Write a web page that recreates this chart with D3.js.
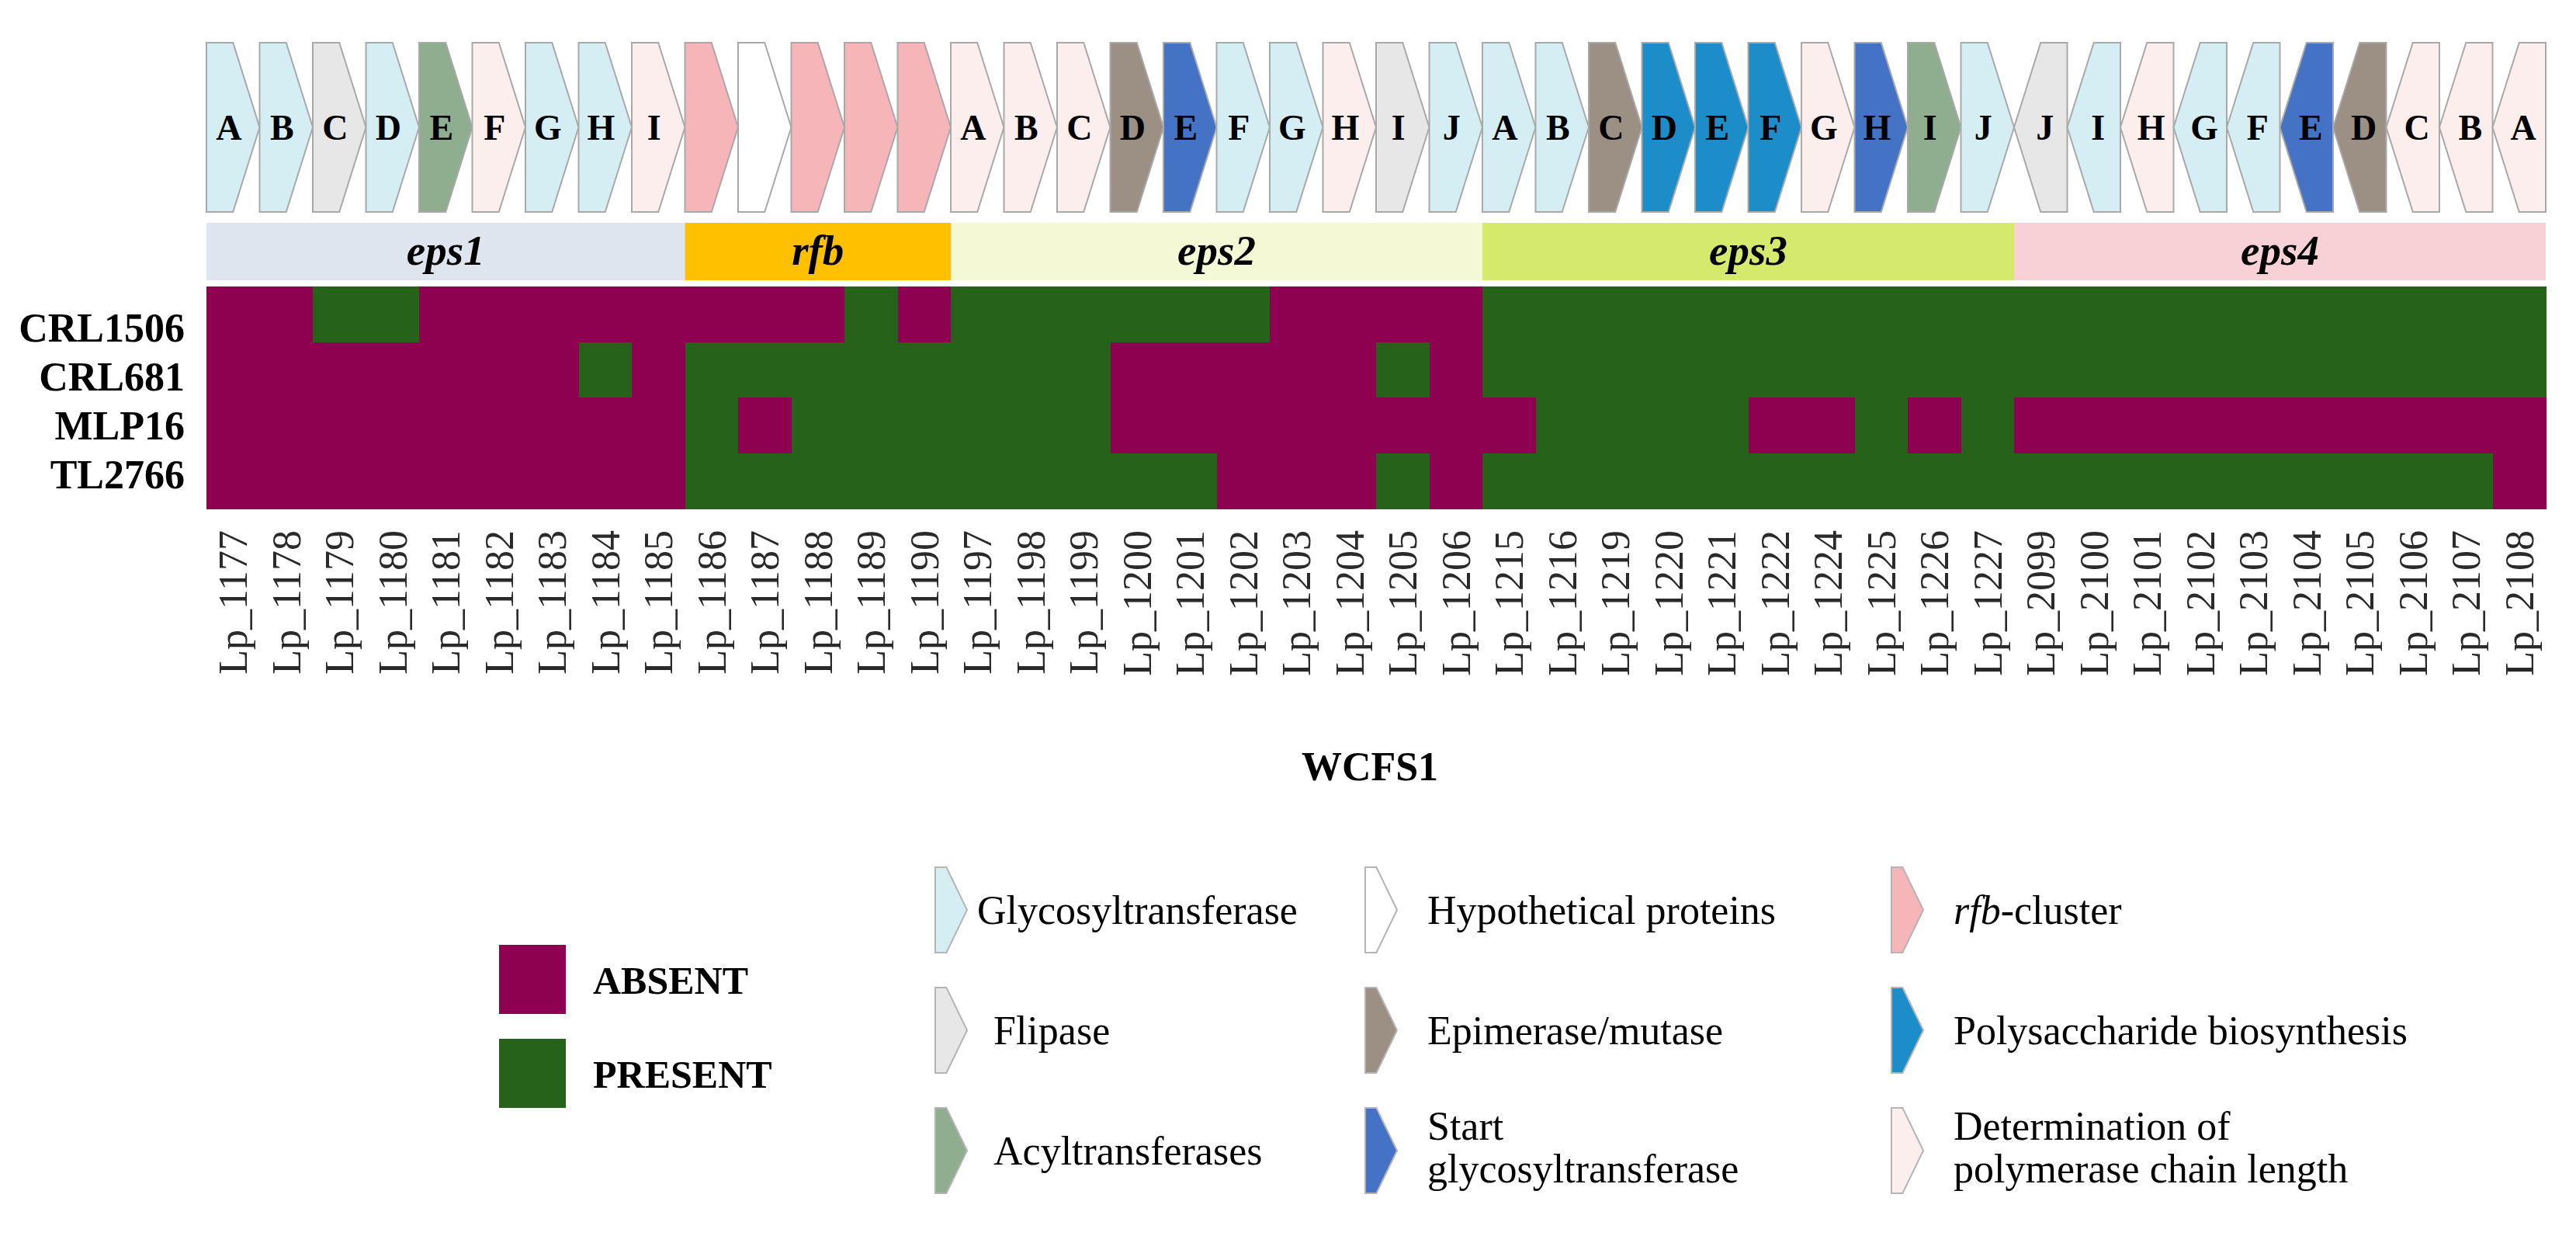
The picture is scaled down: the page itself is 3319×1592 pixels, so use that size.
<!DOCTYPE html>
<html>
<head>
<meta charset="utf-8">
<script src="https://d3js.org/d3.v7.min.js"></script>
<style>
  body { margin: 0; background: #fff; }
  svg text { font-family: "Liberation Serif", "Times New Roman", serif; }
</style>
</head>
<body>
<div id="chart"></div>
<script>
  // ---- data ----
  const clusters = ["eps1", "rfb", "eps2", "eps3", "eps4"];
  const clusterSizes = [9, 5, 10, 10, 10];
  const clusterColors = ["#DEE5EE", "#FFC000", "#F5F8D4", "#D5EA6C", "#F8D1D7"];
  const reversed = ["eps4"]; // genes drawn pointing left

  const genes = [
    "Lp_1177", "Lp_1178", "Lp_1179", "Lp_1180", "Lp_1181", "Lp_1182", "Lp_1183", "Lp_1184", "Lp_1185",
    "Lp_1186", "Lp_1187", "Lp_1188", "Lp_1189", "Lp_1190",
    "Lp_1197", "Lp_1198", "Lp_1199", "Lp_1200", "Lp_1201", "Lp_1202", "Lp_1203", "Lp_1204", "Lp_1205", "Lp_1206",
    "Lp_1215", "Lp_1216", "Lp_1219", "Lp_1220", "Lp_1221", "Lp_1222", "Lp_1224", "Lp_1225", "Lp_1226", "Lp_1227",
    "Lp_2099", "Lp_2100", "Lp_2101", "Lp_2102", "Lp_2103", "Lp_2104", "Lp_2105", "Lp_2106", "Lp_2107", "Lp_2108"
  ];
  const geneLetters = [
    "A", "B", "C", "D", "E", "F", "G", "H", "I",
    "", "", "", "", "",
    "A", "B", "C", "D", "E", "F", "G", "H", "I", "J",
    "A", "B", "C", "D", "E", "F", "G", "H", "I", "J",
    "J", "I", "H", "G", "F", "E", "D", "C", "B", "A"
  ];
  // GT glycosyltransferase, HP hypothetical, RFB rfb-cluster, FL flipase, EP epimerase/mutase,
  // PS polysaccharide biosynthesis, AC acyltransferase, SG start glycosyltransferase, PC chain length
  const geneTypes = [
    "GT", "GT", "FL", "GT", "AC", "PC", "GT", "GT", "PC",
    "RFB", "HP", "RFB", "RFB", "RFB",
    "PC", "PC", "PC", "EP", "SG", "GT", "GT", "PC", "FL", "GT",
    "GT", "GT", "EP", "PS", "PS", "PS", "PC", "SG", "AC", "GT",
    "FL", "GT", "PC", "GT", "GT", "SG", "EP", "PC", "PC", "PC"
  ];

  const strains = ["CRL1506", "CRL681", "MLP16", "TL2766"];
  // 1 = present, 0 = absent
  const crl1506 = [0,0,1,1,0,0,0,0,0, 0,0,0,1,0, 1,1,1,1,1,1,0,0,0,0, 1,1,1,1,1,1,1,1,1,1, 1,1,1,1,1,1,1,1,1,1];
  const crl681  = [0,0,0,0,0,0,0,1,0, 1,1,1,1,1, 1,1,1,0,0,0,0,0,1,0, 1,1,1,1,1,1,1,1,1,1, 1,1,1,1,1,1,1,1,1,1];
  const mlp16   = [0,0,0,0,0,0,0,0,0, 1,0,1,1,1, 1,1,1,0,0,0,0,0,0,0, 0,1,1,1,1,0,0,1,0,1, 0,0,0,0,0,0,0,0,0,0];
  const tl2766  = [0,0,0,0,0,0,0,0,0, 1,1,1,1,1, 1,1,1,1,1,0,0,0,1,0, 1,1,1,1,1,1,1,1,1,1, 1,1,1,1,1,1,1,1,1,0];
  const presence = [crl1506, crl681, mlp16, tl2766];

  const statusNames = ["ABSENT", "PRESENT"];
  const statusColors = ["#8E0050", "#27621B"];

  const typeCodes = ["GT", "HP", "RFB", "FL", "EP", "PS", "AC", "SG", "PC"];
  const typeColors = ["#D5EEF3", "#FFFFFF", "#F6B5B8", "#E7E7E7", "#9C8F84", "#1D8DCA", "#8FAE8F", "#4472C4", "#FDEEEE"];
  const typeLabels = [
    ["Glycosyltransferase"], ["Hypothetical proteins"], ["rfb-cluster"],
    ["Flipase"], ["Epimerase/mutase"], ["Polysaccharide biosynthesis"],
    ["Acyltransferases"], ["Start", "glycosyltransferase"], ["Determination of", "polymerase chain length"]
  ];

  // ---- layout ----
  const W = 3319, H = 1592;
  const svg = d3.select("#chart").append("svg").attr("width", W).attr("height", H);

  const x = d3.scaleBand().domain(genes).range([266, 3280]);
  const y = d3.scaleBand().domain(strains).range([369, 655]);
  const yLabel = d3.scalePoint().domain(strains).range([440, 629]);
  const typeColor = d3.scaleOrdinal().domain(typeCodes).range(typeColors);
  const statusColor = d3.scaleOrdinal().domain([0, 1]).range(statusColors);

  // which cluster each gene belongs to
  const geneCluster = [];
  clusters.forEach((c, i) => { for (let k = 0; k < clusterSizes[i]; k++) geneCluster.push(c); });

  const bw = x.bandwidth();
  const arrowTop = 55, arrowBot = 273, arrowMid = (arrowTop + arrowBot) / 2;

  function arrowPath(x0, w, top, bot, rev, body) {
    const mid = (top + bot) / 2;
    let pts;
    if (!rev) pts = [[x0, top], [x0 + w * body, top], [x0 + w, mid], [x0 + w * body, bot], [x0, bot]];
    else pts = [[x0 + w, top], [x0 + w * (1 - body), top], [x0, mid], [x0 + w * (1 - body), bot], [x0 + w, bot]];
    return "M" + pts.map(p => p.join(",")).join("L") + "Z";
  }

  // gene arrows
  const arrows = svg.append("g").selectAll("g")
    .data(genes.map((g, i) => ({ gene: g, letter: geneLetters[i], type: geneTypes[i], rev: reversed.includes(geneCluster[i]) })))
    .join("g");

  arrows.append("path")
    .attr("d", d => arrowPath(x(d.gene), bw, arrowTop, arrowBot, d.rev, 0.5))
    .attr("fill", d => typeColor(d.type))
    .attr("stroke", "#a9a9a9")
    .attr("stroke-width", 2)
    .attr("stroke-linejoin", "miter");

  arrows.append("text")
    .attr("x", d => x(d.gene) + bw * (d.rev ? 0.58 : 0.42))
    .attr("y", arrowMid)
    .attr("dy", "0.35em")
    .attr("text-anchor", "middle")
    .attr("font-size", 46)
    .attr("font-weight", "bold")
    .text(d => d.letter);

  // cluster bars
  let start = 0;
  const clusterData = clusters.map((c, i) => {
    const d = { name: c, first: genes[start], last: genes[start + clusterSizes[i] - 1], color: clusterColors[i] };
    start += clusterSizes[i];
    return d;
  });
  const cbar = svg.append("g").selectAll("g").data(clusterData).join("g");
  cbar.append("rect")
    .attr("x", d => x(d.first))
    .attr("width", d => x(d.last) + bw - x(d.first))
    .attr("y", 287).attr("height", 74)
    .attr("fill", d => d.color);
  cbar.append("text")
    .attr("x", d => (x(d.first) + x(d.last) + bw) / 2)
    .attr("y", 341)
    .attr("text-anchor", "middle")
    .attr("font-size", 55)
    .attr("font-weight", "bold")
    .attr("font-style", "italic")
    .text(d => d.name);

  // heatmap
  const cells = [];
  strains.forEach((s, r) => genes.forEach((g, c) => cells.push({ strain: s, gene: g, v: presence[r][c] })));
  svg.append("g").selectAll("rect").data(cells).join("rect")
    .attr("x", d => x(d.gene)).attr("y", d => y(d.strain))
    .attr("width", bw + 0.5).attr("height", y.bandwidth() + 0.5)
    .attr("fill", d => statusColor(d.v))
    .attr("shape-rendering", "crispEdges");

  // row labels
  svg.append("g").selectAll("text").data(strains).join("text")
    .attr("x", 238).attr("y", d => yLabel(d))
    .attr("text-anchor", "end")
    .attr("font-size", 52).attr("font-weight", "bold")
    .text(d => d);

  // gene id labels (rotated)
  svg.append("g").selectAll("text").data(genes).join("text")
    .attr("transform", d => `translate(${x(d) + bw / 2},683) rotate(-90)`)
    .attr("dy", "0.35em")
    .attr("text-anchor", "end")
    .attr("font-size", 52)
    .attr("fill", "#2a2a2a")
    .text(d => d);

  svg.append("text")
    .attr("x", (x.range()[0] + x.range()[1]) / 2 - 8).attr("y", 1005)
    .attr("text-anchor", "middle")
    .attr("font-size", 52).attr("font-weight", "bold")
    .text("WCFS1");

  // presence legend
  const sl = svg.append("g").selectAll("g").data(statusNames).join("g")
    .attr("transform", (d, i) => `translate(643,${1217 + i * 121})`);
  sl.append("rect").attr("width", 86).attr("height", 89).attr("fill", (d, i) => statusColors[i]);
  sl.append("text").attr("x", 121).attr("y", 63)
    .attr("font-size", 50).attr("font-weight", "bold").text(d => d);

  // gene type legend (3 x 3)
  const colX = [1205, 1759, 2437];
  const rowY = [1117, 1272, 1427];
  const tl = svg.append("g").selectAll("g").data(typeCodes).join("g")
    .attr("transform", (d, i) => `translate(${colX[i % 3]},${rowY[Math.floor(i / 3)]})`);
  tl.append("path")
    .attr("d", arrowPath(0, 41, 0, 110, false, 0.35))
    .attr("fill", d => typeColor(d))
    .attr("stroke", "#b5b5b5").attr("stroke-width", 2);
  tl.each(function (d, i) {
    const lines = typeLabels[i];
    const t = d3.select(this).append("text").attr("font-size", 52);
    const x0 = i % 3 === 0 && i > 0 ? 75 : (i === 0 ? 54 : 80);
    lines.forEach((ln, k) => {
      const ty = lines.length === 1 ? 73 : 41 + k * 55;
      const ts = t.append("tspan").attr("x", x0).attr("y", ty);
      if (ln === "rfb-cluster") {
        ts.append("tspan").attr("font-style", "italic").text("rfb");
        ts.append("tspan").text("-cluster");
      } else ts.text(ln);
    });
  });
</script>
</body>
</html>
